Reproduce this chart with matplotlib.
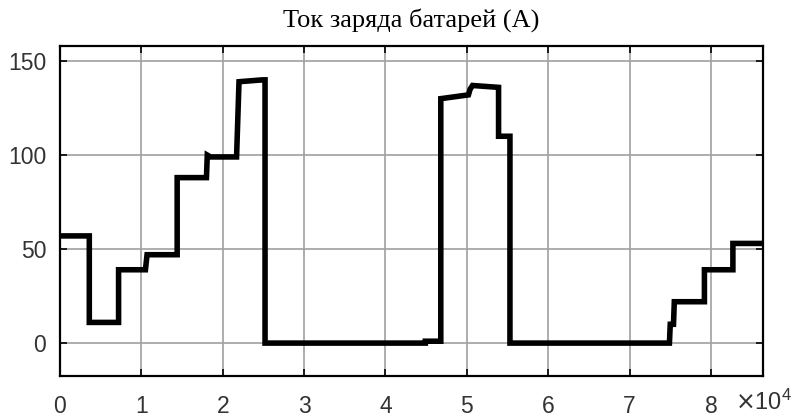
import matplotlib
matplotlib.use('Agg')
import matplotlib.pyplot as plt

# battery charge current over one day (seconds), stepwise
t = [0, 3600, 3600, 7200, 7200, 10500, 10700, 14400, 14400, 18000, 18100,
     18500, 21700, 22000, 24900, 25200, 25200, 44900, 44900, 46800, 46800,
     50200, 50400, 50700, 53900, 53900, 55300, 55300, 74900, 75000, 75400,
     75500, 79200, 79200, 82700, 82700, 86400]
current = [57, 57, 11, 11, 39, 39, 47, 47, 88, 88, 100, 99, 99, 139, 140,
           140, 0, 0, 1, 1, 130, 132, 135, 137, 136, 110, 110, 0, 0, 10, 10,
           22, 22, 39, 39, 53, 53]
xticks = [0, 10000, 20000, 30000, 40000, 50000, 60000, 70000, 80000]
xlabels = ['0', '1', '2', '3', '4', '5', '6', '7', '8']
yticks = [0, 50, 100, 150]

fig = plt.figure(figsize=(7.97, 4.17), dpi=100)
ax = fig.add_axes([60/797, 1-376/417, 703/797, 330/417])

ax.plot(t, current, color='black', linewidth=4, solid_joinstyle='miter')
ax.set_xlim(0, 86400)
ax.set_ylim(-17.5, 158)
ax.set_xticks(xticks)
ax.set_xticklabels(xlabels)
ax.set_yticks(yticks)
ax.grid(True, color='#a0a0a0', linewidth=1.2)
ax.set_axisbelow(True)
ax.tick_params(direction='in', top=True, right=True, length=5, width=1.2,
               labelsize=16.5, labelcolor='#333333')
ax.tick_params(axis='x', pad=14)
ax.tick_params(axis='y', pad=10)
for lbl in ax.get_xticklabels() + ax.get_yticklabels():
    lbl.set_family('Liberation Sans')
for s in ax.spines.values():
    s.set_linewidth(1.6)

ax.set_title('Ток заряда батарей (А)', fontsize=19, family='Liberation Serif',
             pad=14)
fig.text(735/797, 1-410/417, r'$\times\mathregular{10^{4}}$', fontsize=17,
         family='Liberation Sans', color='#333333', ha='left', va='baseline')

fig.savefig('out.png', dpi=100)
